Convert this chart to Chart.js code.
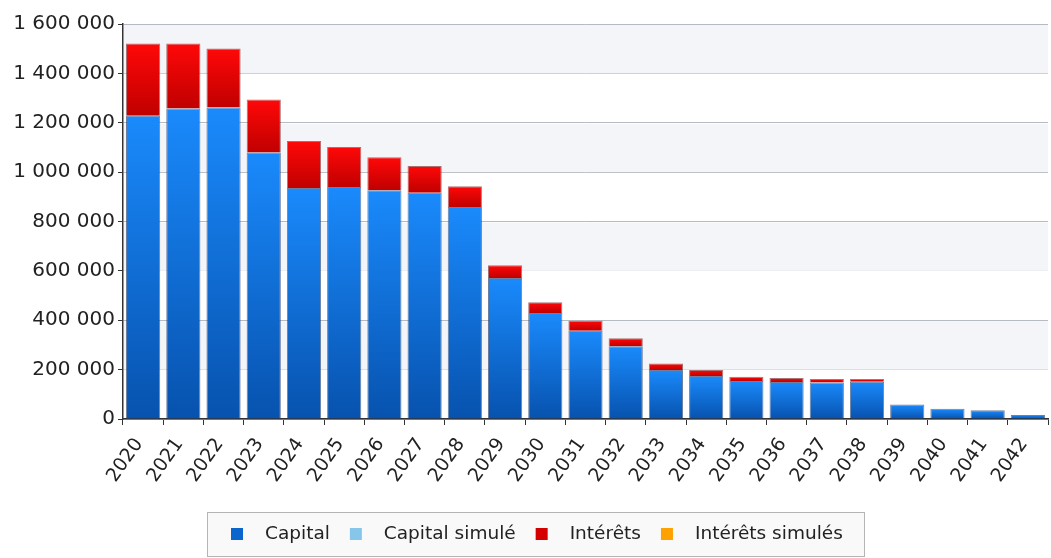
<!DOCTYPE html>
<html>
<head>
<meta charset="utf-8">
<script src="https://cdn.jsdelivr.net/npm/chart.js@4/dist/chart.umd.min.js"></script>
<style>
  html, body { margin: 0; padding: 0; background: #fff; }
  #wrap { width: 1051px; height: 558px; position: relative; }
</style>
</head>
<body>
<div id="wrap"><canvas id="chart"></canvas></div>
<script>
const years = ['2020', '2021', '2022', '2023', '2024', '2025', '2026', '2027', '2028', '2029', '2030', '2031',
    '2032', '2033', '2034', '2035', '2036', '2037', '2038', '2039', '2040', '2041', '2042'];
const capital = [1228000, 1258000, 1262000, 1080000, 936000, 940000, 927000, 916000, 859000, 571000, 429000, 357000,
    295000, 198000, 174000, 154000, 150000, 148000, 151000, 59000, 42000, 35000, 16000];
const capitalSimule = years.map(() => 0);
const interets = [293000, 263000, 239000, 214000, 190000, 162000, 133000, 109000, 84000, 52000, 44000, 41000,
    32000, 27000, 24000, 17000, 16000, 14000, 11000, 0, 0, 0, 0];
const interetsSimules = years.map(() => 0);
const yTicks = [0, 200000, 400000, 600000, 800000, 1000000, 1200000, 1400000, 1600000];

const legendItems = [
    { text: 'Capital', color: '#0a66cc' },
    { text: 'Capital simulé', color: '#86c6ea' },
    { text: 'Intérêts', color: '#d40000' },
    { text: 'Intérêts simulés', color: '#ffa200' }
];

// vertical gradient for one bar segment, light at top, dark at bottom
function segGradient(context, base, value, topColor, bottomColor) {
    const chart = context.chart;
    const y = chart.scales.y;
    if (!chart.chartArea || !y) return topColor;
    const top = y.getPixelForValue(base + value);
    const bottom = y.getPixelForValue(base);
    if (bottom - top < 1) return bottomColor;
    const g = chart.ctx.createLinearGradient(0, top, 0, bottom);
    g.addColorStop(0, topColor);
    g.addColorStop(1, bottomColor);
    return g;
}

const formatNum = v => String(v).replace(/\B(?=(\d{3})+(?!\d))/g, ' ');

const bandsPlugin = {
    id: 'bands',
    beforeDatasetsDraw(chart) {
        const { ctx, chartArea, scales: { y } } = chart;
        ctx.save();
        ctx.fillStyle = '#f4f5f8';
        for (let i = 1; i < yTicks.length; i += 2) {
            const top = y.getPixelForValue(yTicks[i + 1] !== undefined ? yTicks[i + 1] : yTicks[i]);
            const bot = y.getPixelForValue(yTicks[i]);
            if (bot > top) ctx.fillRect(chartArea.left + 1, top + 1, chartArea.right - chartArea.left - 1, bot - top - 1);
        }
        ctx.restore();
    }
};

const boxLegend = {
    id: 'boxLegend',
    afterDraw(chart) {
        const ctx = chart.ctx;
        ctx.save();
        ctx.fillStyle = '#f9f9f9';
        ctx.strokeStyle = '#b4b4b4';
        ctx.lineWidth = 1;
        ctx.fillRect(207.5, 512.5, 657, 44);
        ctx.strokeRect(207.5, 512.5, 657, 44);
        ctx.font = '18.5px "DejaVu Sans"';
        ctx.textBaseline = 'middle';
        ctx.textAlign = 'left';
        let x = 231;
        const cy = 534;
        legendItems.forEach(item => {
            ctx.fillStyle = item.color;
            ctx.fillRect(x, cy - 6, 12, 12);
            x += 12 + 22;
            ctx.fillStyle = '#222';
            ctx.fillText(item.text, x, cy);
            x += ctx.measureText(item.text).width + 20;
        });
        ctx.restore();
    }
};

new Chart(document.getElementById('chart'), {
    type: 'bar',
    data: {
        labels: years,
        datasets: [
            {
                label: 'Capital',
                data: capital,
                backgroundColor: c => segGradient(c, 0, capital[c.dataIndex], '#1a8afc', '#0752ae'),
                borderColor: 'rgba(10, 45, 100, 0.6)',
                borderWidth: 1
            },
            {
                label: 'Capital simulé',
                data: capitalSimule,
                backgroundColor: '#86c6ea'
            },
            {
                label: 'Intérêts',
                data: interets,
                backgroundColor: c => segGradient(c, capital[c.dataIndex], interets[c.dataIndex], '#ff0808', '#c00000'),
                borderColor: 'rgba(110, 0, 0, 0.55)',
                borderWidth: 1
            },
            {
                label: 'Intérêts simulés',
                data: interetsSimules,
                backgroundColor: '#ffa200'
            }
        ]
    },
    options: {
        responsive: true,
        maintainAspectRatio: false,
        animation: false,
        layout: { padding: { top: 24, right: 3, bottom: 0, left: 5 } },
        datasets: { bar: { categoryPercentage: 1, barPercentage: 0.85 } },
        plugins: {
            legend: { display: false },
            tooltip: { enabled: false }
        },
        scales: {
            x: {
                stacked: true,
                grid: { drawOnChartArea: false, drawTicks: true, tickLength: 6, tickColor: '#333', offset: true },
                border: { color: '#333', width: 1.5 },
                ticks: {
                    color: '#222',
                    font: { family: '"DejaVu Sans"', size: 19 },
                    minRotation: 55,
                    maxRotation: 55,
                    autoSkip: false,
                    padding: 9,
                    labelOffset: -4
                },
                afterFit(s) {
                    s.height = 139;
                    s.paddingLeft = 0;
                    s.paddingRight = 0;
                }
            },
            y: {
                stacked: true,
                min: 0,
                max: 1600000,
                afterBuildTicks(s) { s.ticks = yTicks.map(v => ({ value: v })); },
                grid: { color: '#b6bac2', tickLength: 5, tickColor: '#333' },
                border: { color: '#333', width: 1.5 },
                ticks: {
                    color: '#222',
                    font: { family: '"DejaVu Sans"', size: 20 },
                    padding: 3,
                    callback: v => formatNum(v)
                },
                afterFit(s) { s.width = 118; }
            }
        }
    },
    plugins: [bandsPlugin, boxLegend]
});
</script>
</body>
</html>
